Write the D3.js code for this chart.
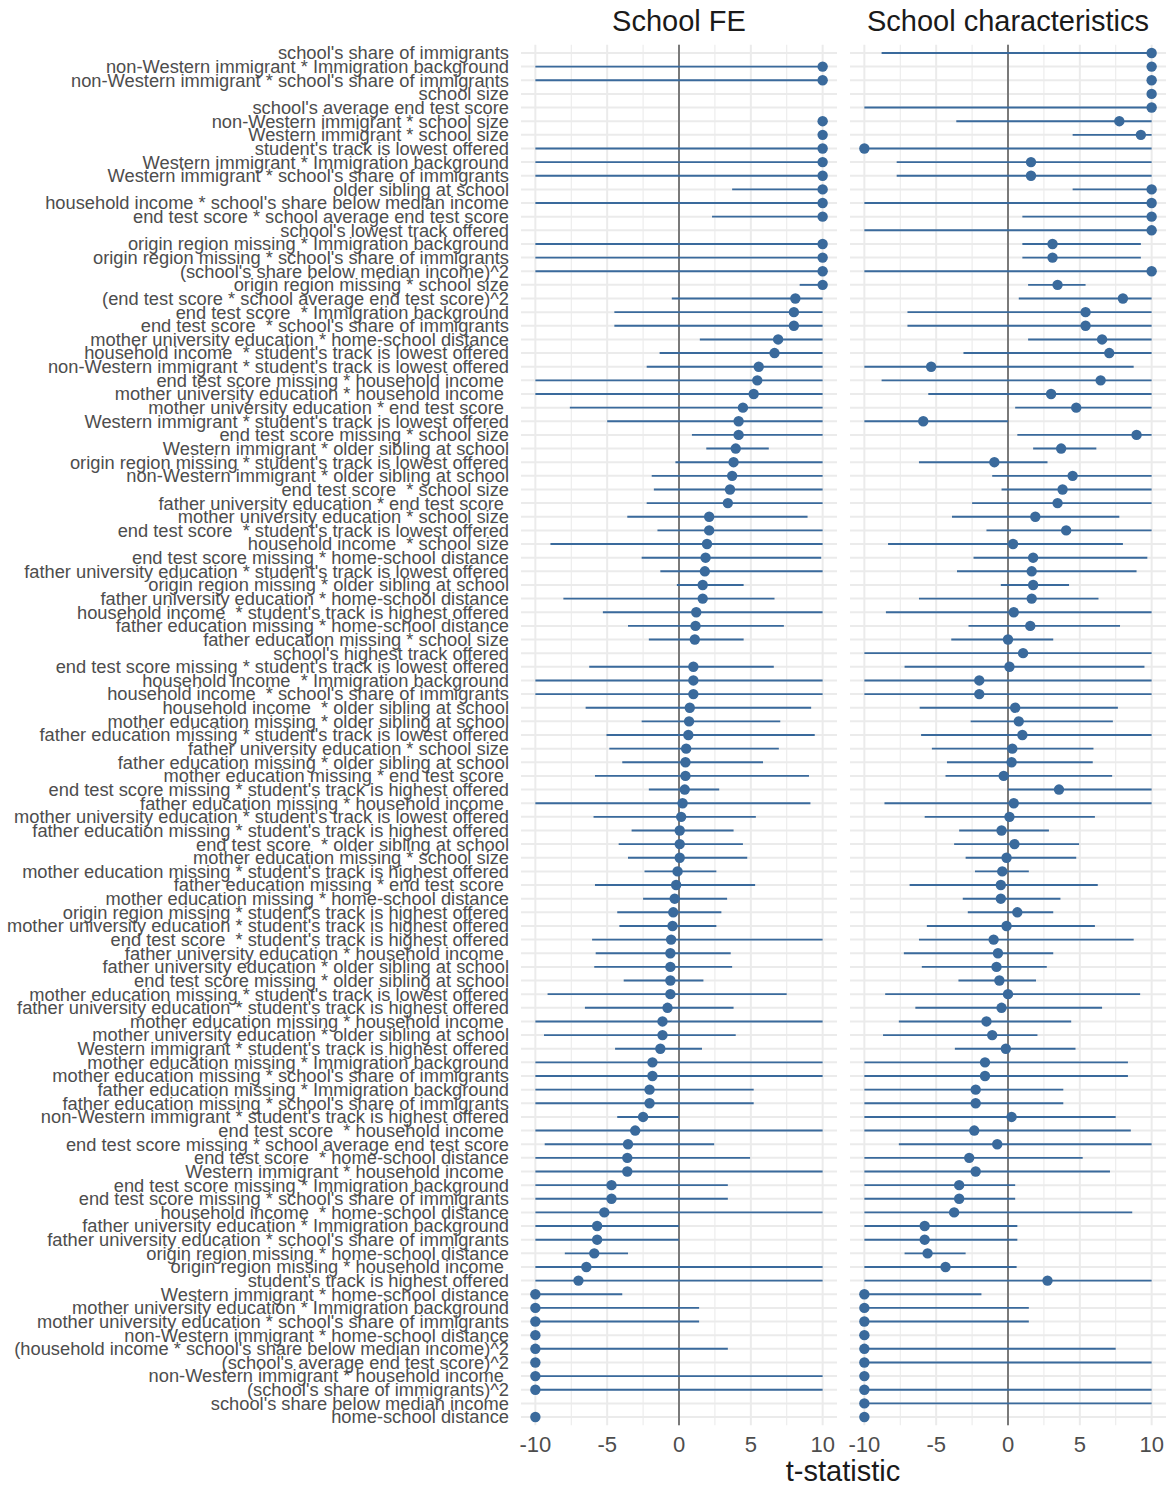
<!DOCTYPE html>
<html lang="en">
<head>
    <meta charset="UTF-8">
    <title>t-statistics</title>
    <script src="https://d3js.org/d3.v7.min.js"></script>
    <style>
        body{ margin: 0; background: white; }
        text{ font-family: "Liberation Sans", Arial, sans-serif; }
        .ylab{ font-size: 18.3px; fill: #4d4d4d; white-space: pre; }
        .xtick{ font-size: 22px; fill: #4d4d4d; }
        .title{ font-size: 29px; fill: #1a1a1a; }
    </style>
</head>
<body>
<svg id="canvas" width="1169" height="1486"></svg>
<script>
    // row labels, top to bottom
    let labels = [
        "school's share of immigrants",
        "non-Western immigrant * Immigration background",
        "non-Western immigrant * school's share of immigrants",
        "school size",
        "school's average end test score",
        "non-Western immigrant * school size",
        "Western immigrant * school size",
        "student's track is lowest offered",
        "Western immigrant * Immigration background",
        "Western immigrant * school's share of immigrants",
        "older sibling at school",
        "household income * school's share below median income",
        "end test score * school average end test score",
        "school's lowest track offered",
        "origin region missing * Immigration background",
        "origin region missing * school's share of immigrants",
        "(school's share below median income)^2",
        "origin region missing * school size",
        "(end test score * school average end test score)^2",
        "end test score  * Immigration background",
        "end test score  * school's share of immigrants",
        "mother university education * home-school distance",
        "household income  * student's track is lowest offered",
        "non-Western immigrant * student's track is lowest offered",
        "end test score missing * household income ",
        "mother university education * household income ",
        "mother university education * end test score ",
        "Western immigrant * student's track is lowest offered",
        "end test score missing * school size",
        "Western immigrant * older sibling at school",
        "origin region missing * student's track is lowest offered",
        "non-Western immigrant * older sibling at school",
        "end test score  * school size",
        "father university education * end test score ",
        "mother university education * school size",
        "end test score  * student's track is lowest offered",
        "household income  * school size",
        "end test score missing * home-school distance",
        "father university education * student's track is lowest offered",
        "origin region missing * older sibling at school",
        "father university education * home-school distance",
        "household income  * student's track is highest offered",
        "father education missing * home-school distance",
        "father education missing * school size",
        "school's highest track offered",
        "end test score missing * student's track is lowest offered",
        "household income  * Immigration background",
        "household income  * school's share of immigrants",
        "household income  * older sibling at school",
        "mother education missing * older sibling at school",
        "father education missing * student's track is lowest offered",
        "father university education * school size",
        "father education missing * older sibling at school",
        "mother education missing * end test score ",
        "end test score missing * student's track is highest offered",
        "father education missing * household income ",
        "mother university education * student's track is lowest offered",
        "father education missing * student's track is highest offered",
        "end test score  * older sibling at school",
        "mother education missing * school size",
        "mother education missing * student's track is highest offered",
        "father education missing * end test score ",
        "mother education missing * home-school distance",
        "origin region missing * student's track is highest offered",
        "mother university education * student's track is highest offered",
        "end test score  * student's track is highest offered",
        "father university education * household income ",
        "father university education * older sibling at school",
        "end test score missing * older sibling at school",
        "mother education missing * student's track is lowest offered",
        "father university education * student's track is highest offered",
        "mother education missing * household income ",
        "mother university education * older sibling at school",
        "Western immigrant * student's track is highest offered",
        "mother education missing * Immigration background",
        "mother education missing * school's share of immigrants",
        "father education missing * Immigration background",
        "father education missing * school's share of immigrants",
        "non-Western immigrant * student's track is highest offered",
        "end test score  * household income ",
        "end test score missing * school average end test score",
        "end test score  * home-school distance",
        "Western immigrant * household income ",
        "end test score missing * Immigration background",
        "end test score missing * school's share of immigrants",
        "household income  * home-school distance",
        "father university education * Immigration background",
        "father university education * school's share of immigrants",
        "origin region missing * home-school distance",
        "origin region missing * household income ",
        "student's track is highest offered",
        "Western immigrant * home-school distance",
        "mother university education * Immigration background",
        "mother university education * school's share of immigrants",
        "non-Western immigrant * home-school distance",
        "(household income * school's share below median income)^2",
        "(school's average end test score)^2",
        "non-Western immigrant * household income ",
        "(school's share of immigrants)^2",
        "school's share below median income",
        "home-school distance"
    ]

    let panels = ["School FE", "School characteristics"]
    let xTicks = [-10, -5, 0, 5, 10]
    let xMinor = [-7.5, -2.5, 2.5, 7.5]

    // School FE: t-statistic and interval ends (clipped at +-10), null = not shown
    let feEst = [null,10,10,null,null,10,10,10,10,10, 10,10,10,null,10,10,10,10,8.1,8.0,
        8.0,6.9,6.65,5.55,5.45,5.2,4.45,4.15,4.15,3.95, 3.8,3.7,3.55,3.4,2.1,2.1,1.95,1.85,1.8,1.65,
        1.65,1.2,1.15,1.1,null,1.0,1.0,1.0,0.75,0.7, 0.65,0.5,0.45,0.45,0.4,0.25,0.15,0.05,0.05,0.05,
        -0.1,-0.2,-0.3,-0.4,-0.45,-0.55,-0.6,-0.6,-0.6,-0.6, -0.8,-1.15,-1.15,-1.3,-1.85,-1.85,-2.05,-2.05,-2.5,-3.05,
        -3.55,-3.6,-3.6,-4.7,-4.7,-5.2,-5.7,-5.7,-5.9,-6.45, -7.0,-10,-10,-10,-10,-10,-10,-10,-10,null,-10]
    let feLo = [null,-10,-10,null,null,null,null,-10,-10,-10, 3.7,-10,2.3,null,-10,-10,-10,8.4,-0.5,-4.5,
        -4.5,1.45,-1.35,-2.25,-10,-10,-7.6,-5.0,0.9,1.9, -0.25,-1.9,-1.75,-2.25,-3.6,-1.5,-8.95,-2.6,-1.3,-0.15,
        -8.05,-5.3,-3.55,-2.1,null,-6.25,-10,-10,-6.5,-2.6, -5.05,-4.85,-3.95,-5.85,-2.1,-10,-5.95,-3.3,-4.2,-3.55,
        -2.4,-5.85,-2.5,-4.3,-4.15,-6.05,-5.8,-5.9,-3.85,-9.15, -6.55,-10,-9.4,-4.45,-10,-10,-10,-10,-4.3,-10,
        -9.35,-10,-10,-10,-10,-10,-10,-10,-7.95,-10, -10,-10,-10,-10,null,-10,null,-10,-10,null,null]
    let feHi = [null,10,10,null,null,null,null,10,10,10, 10,10,10,null,10,10,10,10,10,10,
        10,10,10,10,10,10,10,10,10,6.25, 10,10,10,10,8.95,10,10,9.9,10,4.5,
        6.65,10,7.3,4.5,null,6.6,10,10,9.2,7.05, 9.45,6.95,5.85,9.05,2.8,9.15,5.35,3.8,4.45,4.75,
        2.6,5.3,3.35,2.95,2.6,10,3.6,3.7,1.7,7.5, 3.8,10,3.95,1.6,10,10,5.2,5.2,0,10,
        2.45,4.95,10,3.4,3.4,10,0,0,-3.55,10, 10,-3.95,1.4,1.4,null,3.4,null,10,10,null,null]

    // School characteristics
    let scEst = [10,10,10,10,10,7.75,9.25,-10,1.6,1.6, 10,10,10,10,3.1,3.1,10,3.45,8.0,5.4,
        5.4,6.55,7.05,-5.35,6.45,3.0,4.75,-5.9,8.95,3.7, -0.95,4.5,3.8,3.45,1.9,4.05,0.35,1.75,1.65,1.75,
        1.65,0.4,1.55,0,1.05,0.1,-2.0,-2.0,0.5,0.75, 1.0,0.3,0.25,-0.3,3.55,0.4,0.1,-0.45,0.45,-0.1,
        -0.4,-0.5,-0.5,0.65,-0.1,-1.0,-0.7,-0.8,-0.6,0, -0.45,-1.5,-1.1,-0.15,-1.6,-1.6,-2.25,-2.25,0.25,-2.35,
        -0.75,-2.7,-2.25,-3.4,-3.4,-3.75,-5.8,-5.8,-5.6,-4.35, 2.75,-10,-10,-10,-10,-10,-10,-10,-10,-10,-10]
    let scLo = [-8.8,null,null,null,-10,-3.6,4.5,-10,-7.75,-7.75, 4.5,-10,1.0,-10,1.0,1.0,-10,1.4,0.75,-7.0,
        -7.0,1.4,-3.1,-10,-8.8,-5.55,0.5,-10,0.65,1.75, -6.2,-1.1,-0.45,-2.5,-3.9,-1.5,-8.35,-2.4,-3.55,-0.5,
        -6.2,-8.5,-2.75,-3.95,-10,-7.2,-10,-10,-6.15,-2.6, -6.05,-5.3,-4.25,-4.35,0,-8.6,-5.8,-3.4,-3.75,-2.95,
        -2.3,-6.85,-3.15,-2.8,-5.65,-6.2,-7.25,-6.0,-3.45,-8.55, -6.45,-7.6,-8.7,-3.7,-10,-10,-10,-10,-10,-10,
        -7.6,-10,-10,-10,-10,-10,-10,-10,-7.2,-10, -10,-10,-10,-10,null,-10,-10,null,-10,-10,null]
    let scHi = [10,null,null,null,10,10,10,10,10,10, 10,10,10,10,9.25,9.25,10,5.4,10,10,
        10,10,10,8.75,10,10,10,0,10,6.15, 2.75,10,10,10,7.75,10,8.0,9.7,8.95,4.25,
        6.3,10,7.8,3.15,10,9.5,10,10,7.65,7.3, 10,5.95,5.9,7.25,10,10,6.05,2.85,4.95,4.75,
        1.45,6.25,3.65,3.15,6.05,8.75,3.15,2.7,1.95,9.2, 6.55,4.4,2.05,4.7,8.35,8.35,3.85,3.85,7.5,8.55,
        10,5.2,7.1,0.5,0.5,8.65,0.65,0.65,-2.95,0.6, 10,-1.85,1.45,1.45,null,7.5,10,null,10,10,null]

    let series = [
        {est: feEst, lo: feLo, hi: feHi},
        {est: scEst, lo: scLo, hi: scHi}
    ]

    let svg = d3.select('#canvas')
    let yTop = 44.8, yBottom = 1425.2
    let panelRanges = [[521, 837], [850, 1166]]
    let color = "#3a6a9c"

    let y = d3.scalePoint()
        .domain(d3.range(labels.length))
        .range([yTop, yBottom])
        .padding(0.6)

    // y labels
    svg.append('g').selectAll('text')
        .data(labels)
        .enter()
        .append('text')
        .attr("class", "ylab")
        .attr("x", 509)
        .attr("y", function (d, i){ return y(i) })
        .attr("dy", "0.35em")
        .attr("text-anchor", "end")
        .text(function (d){ return d })

    panels.forEach(function (name, p){
        let x = d3.scaleLinear().domain([-11, 11]).range(panelRanges[p])
        let g = svg.append('g')
        let s = series[p]

        // grid
        g.selectAll('line.hgrid')
            .data(labels)
            .enter()
            .append('line')
            .attr("x1", panelRanges[p][0]).attr("x2", panelRanges[p][1])
            .attr("y1", function (d, i){ return y(i) })
            .attr("y2", function (d, i){ return y(i) })
            .attr("stroke", "#ebebeb").attr("stroke-width", 2)
        g.selectAll('line.minor')
            .data(xMinor)
            .enter()
            .append('line')
            .attr("x1", x).attr("x2", x)
            .attr("y1", yTop).attr("y2", yBottom)
            .attr("stroke", "#ebebeb").attr("stroke-width", 1.1)
        g.selectAll('line.major')
            .data(xTicks)
            .enter()
            .append('line')
            .attr("x1", x).attr("x2", x)
            .attr("y1", yTop).attr("y2", yBottom)
            .attr("stroke", "#ebebeb").attr("stroke-width", 2)

        // zero line
        g.append('line')
            .attr("x1", x(0)).attr("x2", x(0))
            .attr("y1", yTop).attr("y2", yBottom)
            .attr("stroke", "#7a7a7a").attr("stroke-width", 2)

        let rows = d3.range(labels.length)

        g.selectAll('line.ci')
            .data(rows.filter(function (i){ return s.lo[i] !== null && s.hi[i] !== null }))
            .enter()
            .append('line')
            .attr("x1", function (i){ return x(s.lo[i]) })
            .attr("x2", function (i){ return x(s.hi[i]) })
            .attr("y1", function (i){ return y(i) })
            .attr("y2", function (i){ return y(i) })
            .attr("stroke", color).attr("stroke-width", 1.9)

        g.selectAll('circle')
            .data(rows.filter(function (i){ return s.est[i] !== null }))
            .enter()
            .append('circle')
            .attr("cx", function (i){ return x(s.est[i]) })
            .attr("cy", function (i){ return y(i) })
            .attr("r", 5.2)
            .attr("fill", color)

        // x tick labels
        g.selectAll('text.xtick')
            .data(xTicks)
            .enter()
            .append('text')
            .attr("class", "xtick")
            .attr("x", x)
            .attr("y", 1452)
            .attr("text-anchor", "middle")
            .text(function (d){ return d })

        // panel title
        g.append('text')
            .attr("class", "title")
            .attr("x", (panelRanges[p][0] + panelRanges[p][1]) / 2)
            .attr("y", 31)
            .attr("text-anchor", "middle")
            .text(name)
    })

    svg.append('text')
        .attr("class", "title")
        .attr("x", 843)
        .attr("y", 1481)
        .attr("text-anchor", "middle")
        .text("t-statistic")
</script>
</body>
</html>
